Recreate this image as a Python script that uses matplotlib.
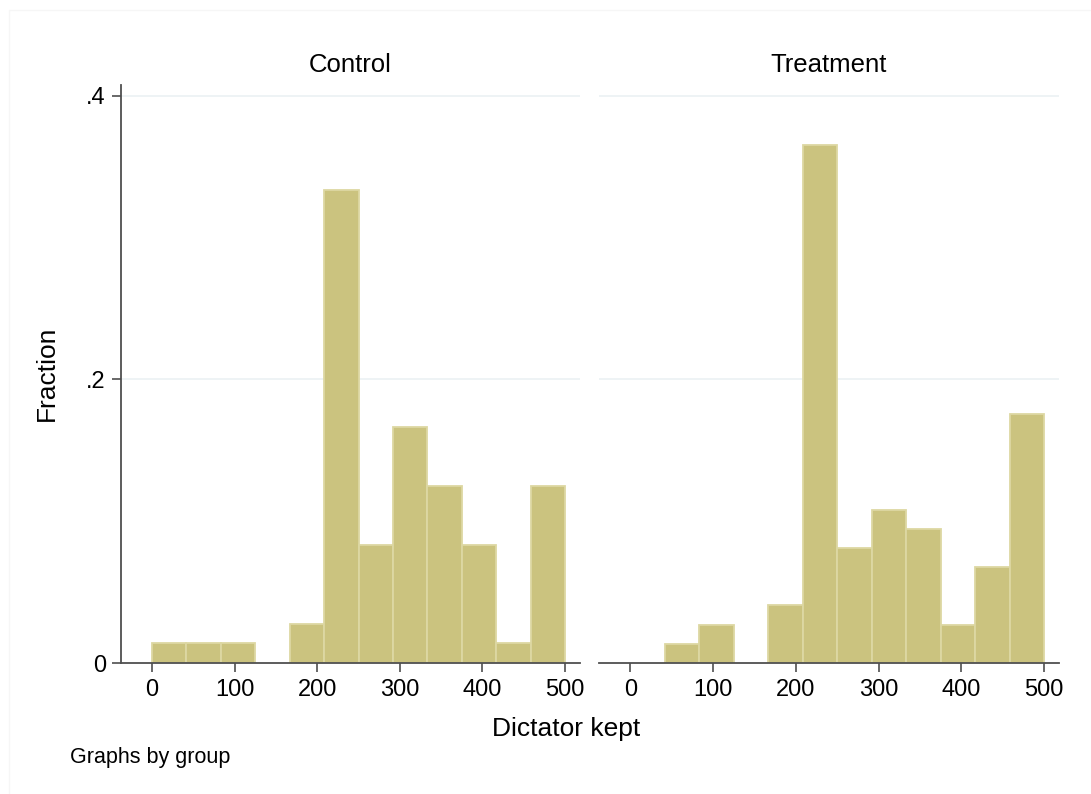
import numpy as np
import matplotlib
matplotlib.use("Agg")
import matplotlib.pyplot as plt
from matplotlib.patches import Rectangle

plt.rcParams["font.family"] = ["Liberation Sans", "DejaVu Sans"]

# Histogram of amount kept by the dictator, 12 equal-width bins over 0-500
bin_edges = np.linspace(0, 500, 13)
groups = ["Control", "Treatment"]
control_counts = [1, 1, 1, 0, 2, 24, 6, 12, 9, 6, 1, 9]
treatment_counts = [0, 1, 2, 0, 3, 27, 6, 8, 7, 2, 5, 13]
x_ticks = [0, 100, 200, 300, 400, 500]
y_ticks = [0, 0.2, 0.4]
y_tick_labels = ["0", ".2", ".4"]

BAR_FILL = "#CBC37F"
BAR_EDGE = "#DDD8A3"
AXIS_COL = "#4F4F4F"
GRID_COL = "#E9F0F2"

W, H = 1091, 794
fig = plt.figure(figsize=(W / 100, H / 100), dpi=100)
fig.patch.set_facecolor("white")

# faint outer frame of the graph region
fig.add_artist(Rectangle((9 / W, -0.05), 1.2, 1 - 10 / H + 0.05,
                         transform=fig.transFigure, fill=False,
                         edgecolor="#F6F6F6", linewidth=1.0))

bottom = (H - 663) / H
top = (H - 84.6) / H
height = top - bottom
panels = [(120.5, 580), (599, 1059)]

for i, (name, counts) in enumerate(zip(groups, [control_counts, treatment_counts])):
    l, r = panels[i]
    ax = fig.add_axes([l / W, bottom, (r - l) / W, height])
    counts = np.asarray(counts, dtype=float)
    frac = counts / counts.sum()
    widths = np.diff(bin_edges)
    keep = frac > 0
    ax.bar(bin_edges[:-1][keep], frac[keep], width=widths[keep], align="edge",
           color=BAR_FILL, edgecolor=BAR_EDGE, linewidth=1.3, zorder=2)

    ax.set_xlim(-38, 518)
    ax.set_ylim(0, 0.4078)
    for yv in y_ticks[1:]:
        ax.axhline(yv, color=GRID_COL, linewidth=1.1, zorder=0)

    for side in ["top", "right"]:
        ax.spines[side].set_visible(False)
    ax.spines["bottom"].set_color(AXIS_COL)
    ax.spines["bottom"].set_linewidth(1.3)
    ax.spines["left"].set_color(AXIS_COL)
    ax.spines["left"].set_linewidth(1.3)

    ax.set_xticks(x_ticks)
    ax.set_xticklabels([str(t) for t in x_ticks])
    ax.tick_params(axis="x", length=6.5, width=1.2, color=AXIS_COL,
                   labelsize=17, pad=5)

    if i == 0:
        ax.set_yticks(y_ticks)
        ax.set_yticklabels(y_tick_labels)
        ax.tick_params(axis="y", length=6.5, width=1.2, color=AXIS_COL,
                       labelsize=17, pad=4)
        ax.set_ylabel("Fraction", fontsize=19, labelpad=20)
    else:
        ax.spines["left"].set_visible(False)
        ax.set_yticks([])

    ax.set_title(name, fontsize=18.5, pad=9)
    ax.set_facecolor("white")

fig.text(566 / W, 1 - 729 / H, "Dictator kept", ha="center", va="center",
         fontsize=19)
fig.text(70 / W, 1 - 757 / H, "Graphs by group", ha="left", va="center",
         fontsize=15.5)

fig.savefig("out.png", dpi=100, facecolor="white")
